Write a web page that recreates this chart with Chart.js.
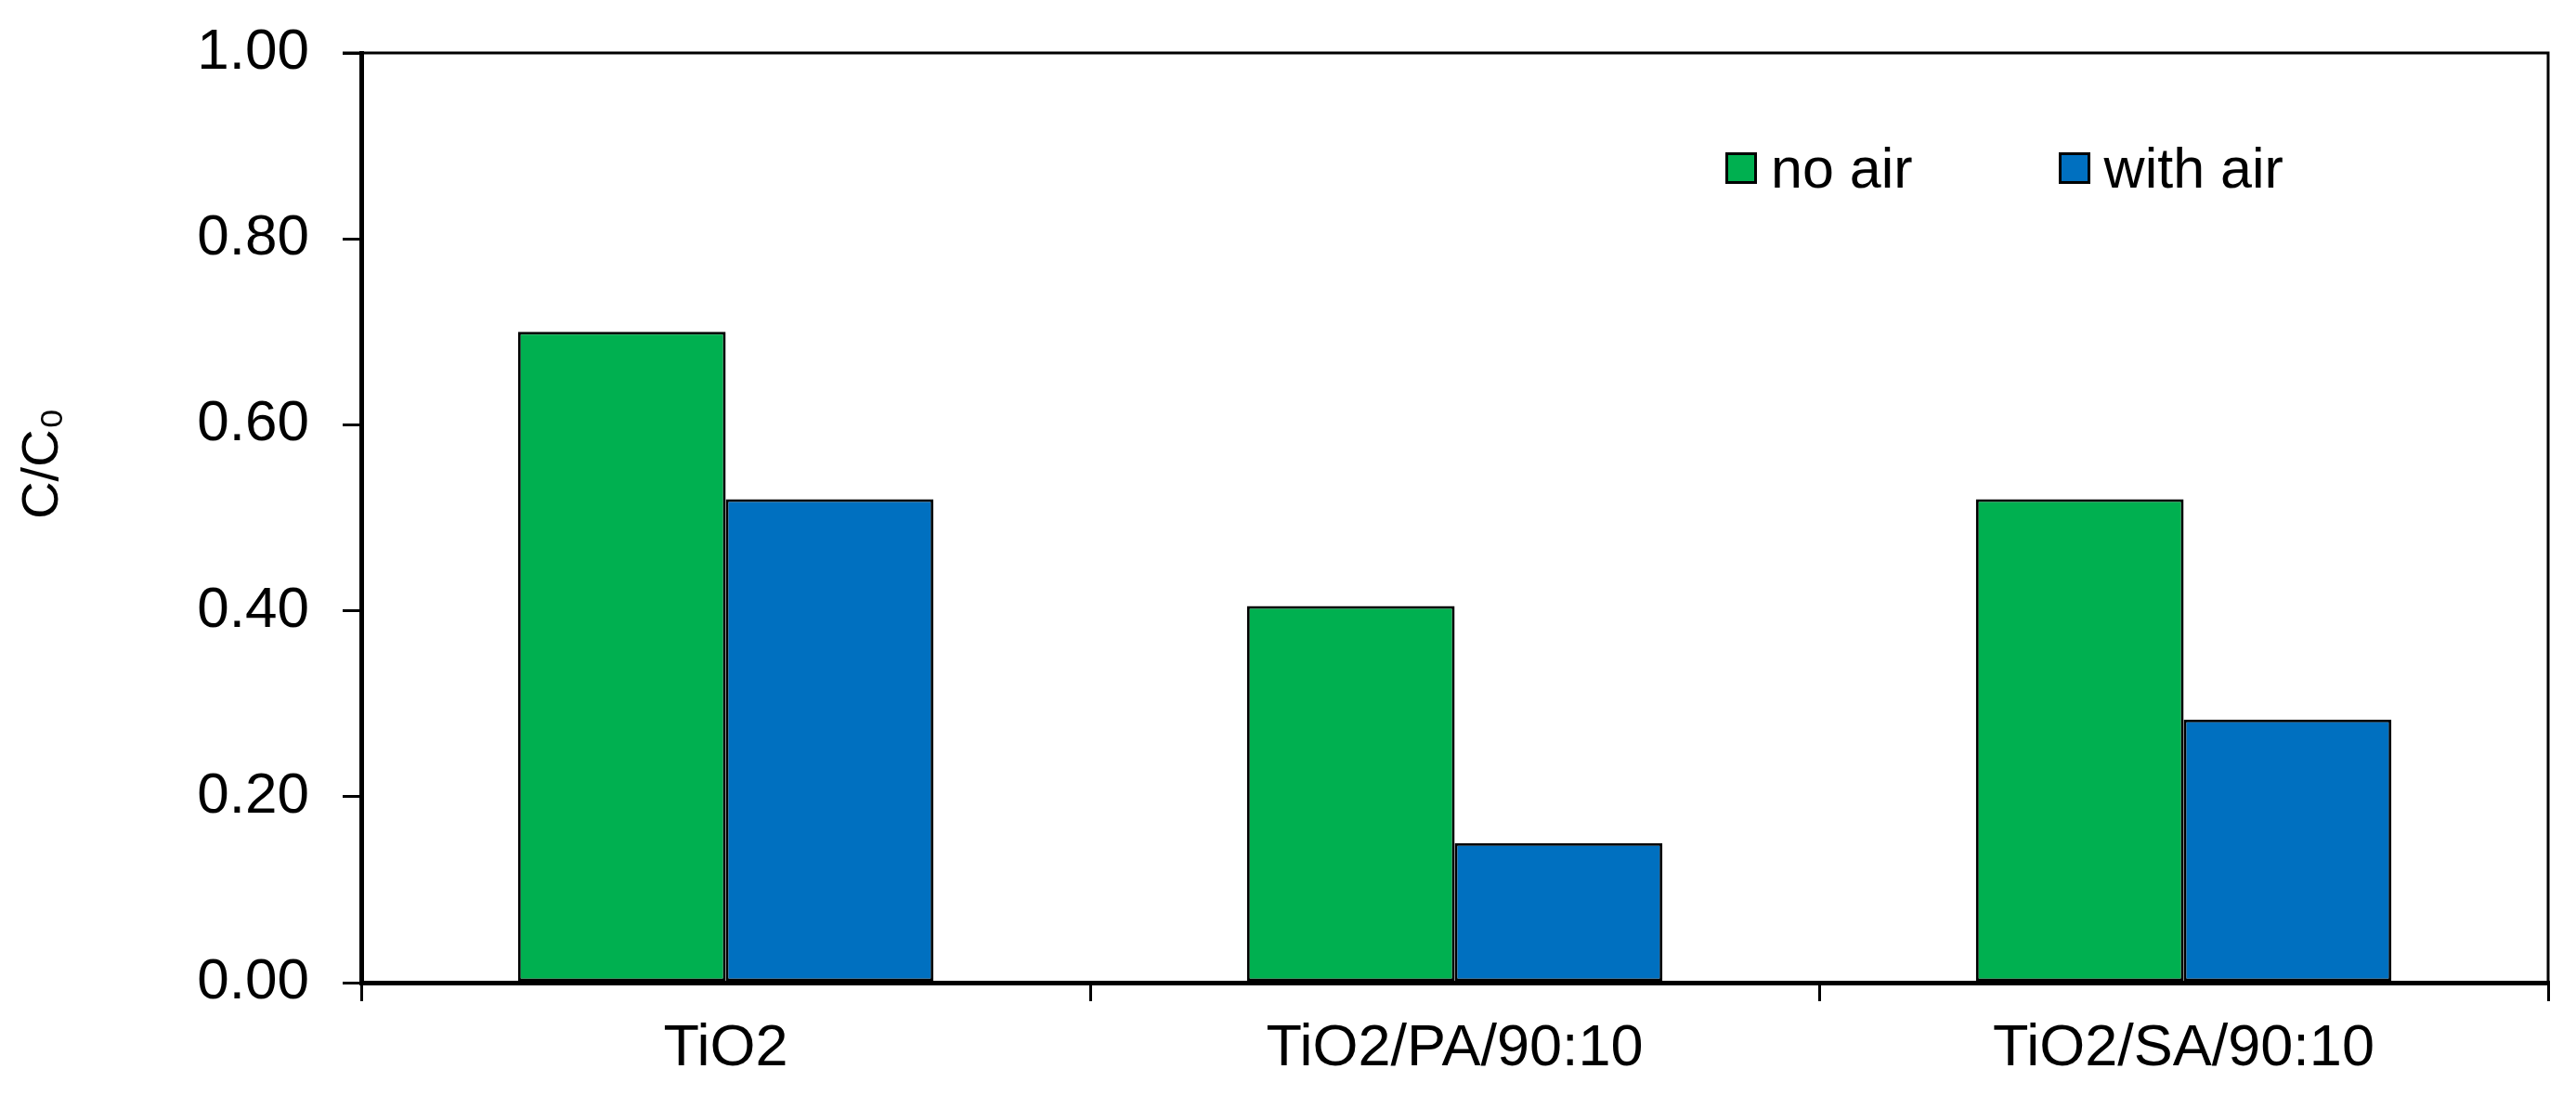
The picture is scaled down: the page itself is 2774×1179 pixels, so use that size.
<!DOCTYPE html>
<html>
<head>
<meta charset="utf-8">
<script src="https://cdn.jsdelivr.net/npm/chart.js"></script>
<style>
  html, body { margin: 0; padding: 0; background: #fff; }
  #wrap { position: relative; width: 2774px; height: 1179px; }
  #leyenda { position: absolute; left: 1858px; top: 146px; display: flex; align-items: center;
             font-family: Arial, "Liberation Sans", sans-serif; font-size: 61px; color: #000; }
  .item { display: flex; align-items: center; margin-right: 157px; }
  .caja { width: 28px; height: 28px; border: 3px solid #000; margin-right: 15px; }
</style>
</head>
<body>
<div id="wrap">
  <canvas id="grafica" width="2774" height="1179"></canvas>
  <div id="leyenda"></div>
</div>
<script>
// Datos
const categorias = ["TiO2", "TiO2/PA/90:10", "TiO2/SA/90:10"];
const sinAire = [0.70, 0.405, 0.52];
const conAire = [0.52, 0.15, 0.283];
const marcasY = [0, 0.2, 0.4, 0.6, 0.8, 1.0];
const tituloEjeY = 'C/C\u2080';

const fuente = 'Arial, "Liberation Sans", sans-serif';

// marco superior y derecho del area de la grafica + titulo del eje Y
const marco = {
  id: 'marco',
  afterDraw(chart) {
    const { ctx, chartArea: { left, top, right, bottom } } = chart;
    ctx.save();
    ctx.strokeStyle = '#000';
    ctx.lineWidth = 3;
    ctx.beginPath();
    ctx.moveTo(left - 20, top);
    ctx.lineTo(right, top);
    ctx.lineTo(right, bottom);
    ctx.stroke();
    // titulo del eje Y (un poco por encima del centro, como en la figura)
    ctx.translate(47, 499);
    ctx.rotate(-Math.PI / 2);
    ctx.fillStyle = '#000';
    ctx.font = '56px ' + fuente;
    ctx.textAlign = 'center';
    ctx.textBaseline = 'middle';
    ctx.fillText(tituloEjeY, 0, 0);
    ctx.restore();
  }
};

const grafica = new Chart(document.getElementById('grafica'), {
  type: 'bar',
  data: {
    labels: categorias,
    datasets: [
      { label: 'no air', data: sinAire, backgroundColor: '#00B050', borderColor: '#000', borderWidth: 3, borderSkipped: false },
      { label: 'with air', data: conAire, backgroundColor: '#0070C0', borderColor: '#000', borderWidth: 3, borderSkipped: false }
    ]
  },
  options: {
    responsive: false,
    animation: false,
    devicePixelRatio: 1,
    categoryPercentage: 0.57,
    barPercentage: 1.0,
    layout: { padding: { top: 57, right: 30, bottom: 0, left: 0 } },
    plugins: {
      legend: { display: false },
      tooltip: { enabled: false }
    },
    scales: {
      x: {
        offset: true,
        afterFit(scale) { scale.height = 121; },
        grid: { offset: true, drawOnChartArea: false, drawTicks: true, tickLength: 20, color: '#000', lineWidth: 3 },
        border: { display: true, color: '#000', width: 5 },
        ticks: { color: '#000', padding: 14, font: { family: fuente, size: 63 }, maxRotation: 0 }
      },
      y: {
        min: 0,
        max: 1,
        afterBuildTicks(scale) { scale.ticks = marcasY.map(v => ({ value: v })); },
        afterFit(scale) {
          scale.width = 389;
          scale.paddingTop = 0;
          scale.paddingBottom = 0;
        },
        grid: { drawOnChartArea: false, drawTicks: true, tickLength: 20, color: '#000', lineWidth: 3 },
        border: { display: true, color: '#000', width: 5 },
        ticks: { color: '#000', padding: 36, font: { family: fuente, size: 62 }, callback: v => Number(v).toFixed(2) }
      }
    }
  },
  plugins: [marco]
});

// leyenda en HTML a partir de los datasets
const leyenda = document.getElementById('leyenda');
grafica.data.datasets.forEach(ds => {
  const item = document.createElement('div');
  item.className = 'item';
  const caja = document.createElement('span');
  caja.className = 'caja';
  caja.style.background = ds.backgroundColor;
  const texto = document.createElement('span');
  texto.textContent = ds.label;
  item.appendChild(caja);
  item.appendChild(texto);
  leyenda.appendChild(item);
});
</script>
</body>
</html>
